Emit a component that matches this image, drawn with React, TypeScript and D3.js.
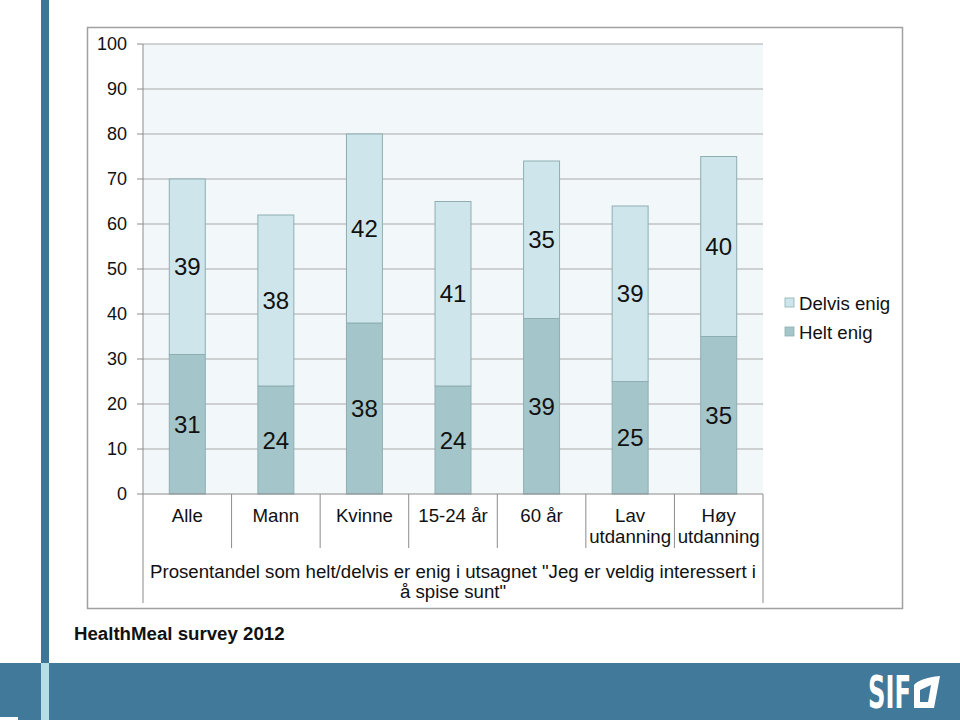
import React from "react";
import * as d3 from "d3";

const categories: string[][] = [["Alle"], ["Mann"], ["Kvinne"], ["15-24 år"], ["60 år"], ["Lav", "utdanning"], ["Høy", "utdanning"]];
const heltEnig = [31, 24, 38, 24, 39, 25, 35];
const delvisEnig = [39, 38, 42, 41, 35, 39, 40];
const yTicks = [0, 10, 20, 30, 40, 50, 60, 70, 80, 90, 100];
const seriesNames = ["Delvis enig", "Helt enig"];
const groupTitle = ["Prosentandel som helt/delvis er enig i utsagnet \"Jeg er veldig interessert i", "å spise sunt\""];

const FONT = "'Liberation Sans', Arial, Helvetica, sans-serif";
const C_DELVIS = "#cee6eb";
const C_HELT = "#a4c6ca";
const C_STROKE = "#8eaeb2";

export default function App() {
  const left = 143, right = 763, top = 44, bottom = 494;
  const keys = categories.map((c) => c.join(" "));
  const x = d3.scaleBand<string>().domain(keys).range([left, right]).paddingInner(0.594).paddingOuter(0.297);
  const y = d3.scaleLinear().domain([0, 100]).range([bottom, top]);
  const step = x.step();

  return (
    <svg width={960} height={720} style={{ position: "absolute", left: 0, top: 0, display: "block", background: "#fff" }} fontFamily={FONT}>
      {/* side stripe and banner */}
      <rect x={41} y={0} width={8} height={663} fill="#3f7596" />
      <rect x={0} y={663} width={960} height={57} fill="#41799a" />
      <rect x={41} y={663} width={8} height={57} fill="#b6dee7" />
      <rect x={0} y={717} width={18} height={3} fill="#ffffff" />

      {/* chart frame */}
      <rect x={87.5} y={27.5} width={815} height={581} fill="#fff" stroke="#a0a0a0" strokeWidth={1.5} />

      {/* plot background */}
      <rect x={left} y={top} width={right - left} height={bottom - top} fill="#f2f7f9" />

      {/* gridlines */}
      {yTicks.filter((t) => t > 0).map((t) => (
        <line key={"g" + t} x1={left} x2={right} y1={y(t)} y2={y(t)} stroke="#a8a8a8" strokeWidth={1} />
      ))}

      {/* bars */}
      {keys.map((k, i) => {
        const bx = x(k)!;
        const bw = x.bandwidth();
        const h = heltEnig[i];
        const d = delvisEnig[i];
        return (
          <g key={k}>
            <rect x={bx} y={y(h)} width={bw} height={y(0) - y(h)} fill={C_HELT} stroke={C_STROKE} strokeWidth={1} />
            <rect x={bx} y={y(h + d)} width={bw} height={y(h) - y(h + d)} fill={C_DELVIS} stroke={C_STROKE} strokeWidth={1} />
            <text x={bx + bw / 2} y={y(h / 2)} dy="0.36em" textAnchor="middle" fontSize={24} fill="#111">{h}</text>
            <text x={bx + bw / 2} y={y(h + d / 2)} dy="0.36em" textAnchor="middle" fontSize={24} fill="#111">{d}</text>
          </g>
        );
      })}

      {/* y axis */}
      <line x1={left} x2={left} y1={top} y2={603} stroke="#8c8c8c" strokeWidth={1} />
      {yTicks.map((t) => (
        <g key={"t" + t}>
          <line x1={left - 6} x2={left} y1={y(t)} y2={y(t)} stroke="#8c8c8c" strokeWidth={1} />
          <text x={127} y={y(t)} dy="0.36em" textAnchor="end" fontSize={18} fill="#111">{t}</text>
        </g>
      ))}

      {/* x axis */}
      <line x1={left} x2={right} y1={bottom} y2={bottom} stroke="#8c8c8c" strokeWidth={1} />
      {keys.slice(1).map((k, i) => (
        <line key={"d" + k} x1={left + step * (i + 1)} x2={left + step * (i + 1)} y1={bottom} y2={548} stroke="#8c8c8c" strokeWidth={1} />
      ))}
      <line x1={right} x2={right} y1={bottom} y2={603} stroke="#8c8c8c" strokeWidth={1} />
      {categories.map((c, i) => (
        <text key={"c" + i} x={x(keys[i])! + x.bandwidth() / 2} y={522} textAnchor="middle" fontSize={18.67} fill="#111">
          {c.map((line, j) => (
            <tspan key={j} x={x(keys[i])! + x.bandwidth() / 2} dy={j === 0 ? 0 : 21}>{line}</tspan>
          ))}
        </text>
      ))}
      {groupTitle.map((line, j) => (
        <text key={"gt" + j} x={(left + right) / 2} y={578 + j * 20} textAnchor="middle" fontSize={18.67} fill="#111">{line}</text>
      ))}

      {/* legend */}
      {seriesNames.map((s, i) => (
        <g key={s}>
          <rect x={785} y={298 + i * 29} width={9} height={9} fill={i === 0 ? C_DELVIS : C_HELT} stroke={C_STROKE} strokeWidth={0.8} />
          <text x={799} y={303 + i * 29} dy="0.36em" fontSize={18.67} fill="#111">{s}</text>
        </g>
      ))}

      {/* footer title */}
      <text x={74} y={640} fontSize={18.67} fontWeight="bold" fill="#111">HealthMeal survey 2012</text>

      {/* logo */}
      <text x={868} y={708} fontSize={45} fontWeight="bold" fill="#fff" fontFamily="'DejaVu Sans Condensed', 'Liberation Sans Narrow', sans-serif" textLength={43} lengthAdjust="spacingAndGlyphs">SIF</text>
      <path d="M914,685 Q920,678 940,676 L934,708 L914,708 Z M920,690 L920,702 L928,702 L931,685 Z" fill="#fff" fillRule="evenodd" />
    </svg>
  );
}
